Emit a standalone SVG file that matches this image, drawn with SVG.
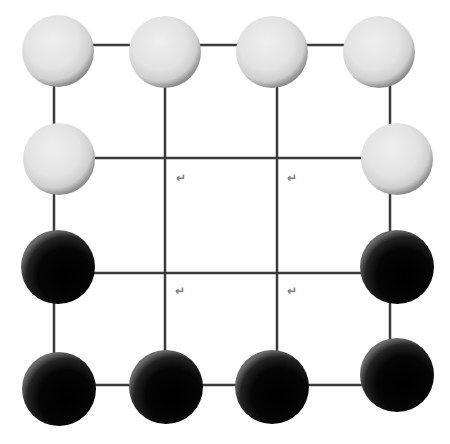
<svg xmlns="http://www.w3.org/2000/svg" width="450" height="444" viewBox="0 0 450 444">
<defs>
<radialGradient id="gw" cx="0.42" cy="0.38" r="0.62" fx="0.42" fy="0.35">
<stop offset="0" stop-color="#efefef"/>
<stop offset="0.6" stop-color="#e3e3e3"/>
<stop offset="0.85" stop-color="#cfcfcf"/>
<stop offset="1" stop-color="#8c8c8c"/>
</radialGradient>
<radialGradient id="gb" cx="0.6" cy="0.62" r="0.62" fx="0.6" fy="0.62">
<stop offset="0" stop-color="#000"/>
<stop offset="0.6" stop-color="#050505"/>
<stop offset="0.85" stop-color="#222"/>
<stop offset="1" stop-color="#6a6a6a"/>
</radialGradient>
<style>
.ln{stroke:#3a3a3a;stroke-width:2.5;fill:none}
.w{fill:url(#gw)}
.b{fill:url(#gb)}
.m{font-family:"DejaVu Sans",sans-serif;font-size:12px;font-weight:bold;fill:#808080}
</style>
</defs>
<rect width="450" height="444" fill="#fff"/>
<g id="connectors">
<line class="ln" x1="54" y1="45" x2="390" y2="45"/>
<line class="ln" x1="54" y1="158" x2="390" y2="158"/>
<line class="ln" x1="54" y1="273" x2="390" y2="273"/>
<line class="ln" x1="54" y1="385" x2="390" y2="385"/>
<line class="ln" x1="54" y1="45" x2="54" y2="385"/>
<line class="ln" x1="165" y1="45" x2="165" y2="385"/>
<line class="ln" x1="277" y1="45" x2="277" y2="385"/>
<line class="ln" x1="390" y1="45" x2="390" y2="385"/>
</g>
<g id="marks">
<text class="m" x="176" y="182">↵</text>
<text class="m" x="287" y="182">↵</text>
<text class="m" x="175" y="295">↵</text>
<text class="m" x="287" y="295">↵</text>
</g>
<g id="w1"><circle class="w" cx="58" cy="51" r="36"/></g>
<g id="w2"><circle class="w" cx="165" cy="52" r="36"/></g>
<g id="w3"><circle class="w" cx="272" cy="52" r="36"/></g>
<g id="w4"><circle class="w" cx="379" cy="52" r="36"/></g>
<g id="w5"><circle class="w" cx="59" cy="159" r="36"/></g>
<g id="w6"><circle class="w" cx="397" cy="159" r="36"/></g>
<g id="b1"><circle class="b" cx="58" cy="267" r="37"/></g>
<g id="b2"><circle class="b" cx="397" cy="267" r="37"/></g>
<g id="b3"><circle class="b" cx="59" cy="389" r="37"/></g>
<g id="b4"><circle class="b" cx="166" cy="387" r="37"/></g>
<g id="b5"><circle class="b" cx="272" cy="387" r="37"/></g>
<g id="b6"><circle class="b" cx="397" cy="375" r="37"/></g>
</svg>
